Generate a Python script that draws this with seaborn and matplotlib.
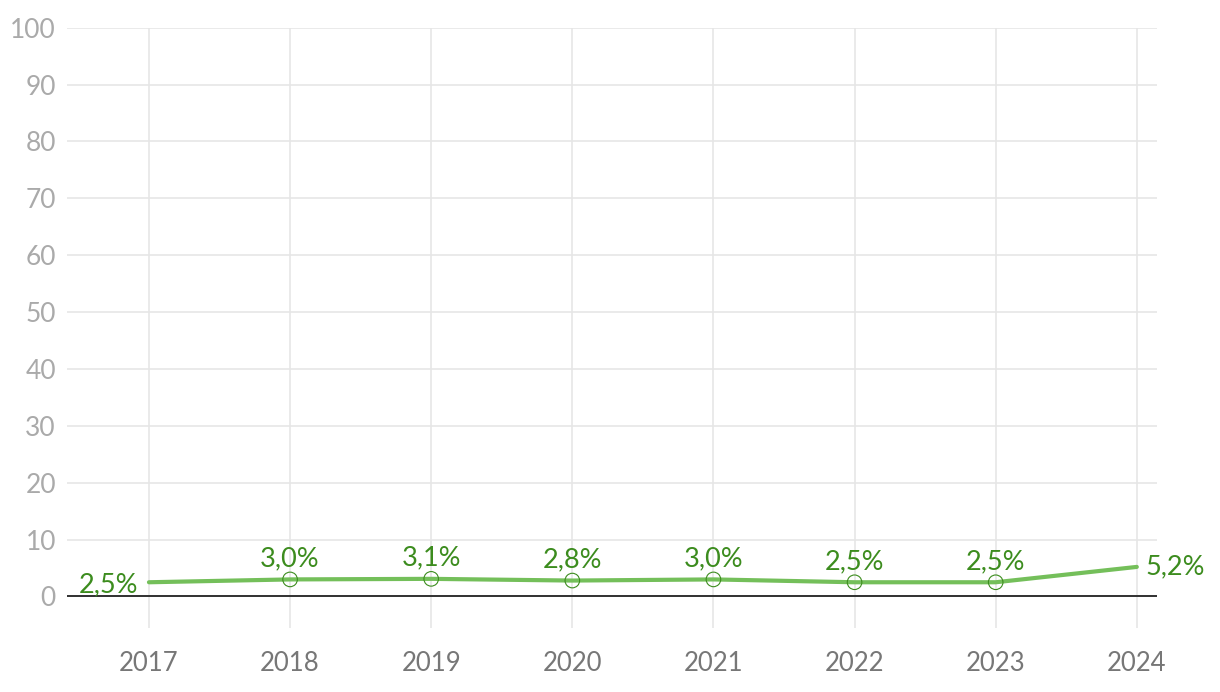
import pandas as pd
import seaborn as sns
import matplotlib.pyplot as plt

anios = [2017, 2018, 2019, 2020, 2021, 2022, 2023, 2024]
valores = [2.5, 3.0, 3.1, 2.8, 3.0, 2.5, 2.5, 5.2]
etiquetas = ["2,5%", "3,0%", "3,1%", "2,8%", "3,0%", "2,5%", "2,5%", "5,2%"]

df = pd.DataFrame({"anio": anios, "valor": valores})

sns.set_style("white")
plt.rcParams["font.family"] = ["Lato", "DejaVu Sans"]

verde_linea = "#74bf5a"
verde_texto = "#3c8c1e"

fig, ax = plt.subplots(figsize=(12.2, 6.92), dpi=100)
fig.subplots_adjust(left=0.055, right=0.948, top=0.96, bottom=0.092)

ax.set_xlim(2016.42, 2024.14)
ax.set_ylim(-5.6, 100)

# rejilla
for y in range(0, 101, 10):
    ax.axhline(y, color="#e6e6e6", lw=1.2, zorder=0)
for x in anios:
    ax.axvline(x, color="#e6e6e6", lw=1.2, zorder=0)
ax.axhline(0, color="#222222", lw=1.3, zorder=1)

sns.lineplot(data=df, x="anio", y="valor", color=verde_linea, lw=3, ax=ax, zorder=3)
medio = df.iloc[1:-1]
ax.scatter(medio["anio"], medio["valor"], s=110, facecolors="none",
           edgecolors=verde_texto, linewidths=0.8, zorder=4)

for i, (x, v, t) in enumerate(zip(anios, valores, etiquetas)):
    if i == 0:
        ax.annotate(t, (x, v), xytext=(-8, -2), textcoords="offset points",
                    ha="right", va="center", color=verde_texto, fontsize=19.5)
    elif i == len(anios) - 1:
        ax.annotate(t, (x, v), xytext=(6, 0), textcoords="offset points",
                    ha="left", va="center", color=verde_texto, fontsize=19.5)
    else:
        ax.annotate(t, (x, v), xytext=(0, 6), textcoords="offset points",
                    ha="center", va="bottom", color=verde_texto, fontsize=19.5)

ax.set_xticks(anios)
ax.set_xticklabels([str(a) for a in anios], color="#777777", fontsize=18.5)
ax.set_yticks(range(0, 101, 10))
ax.set_yticklabels([str(y) for y in range(0, 101, 10)], color="#aaaaaa", fontsize=19)
ax.tick_params(length=0, pad=8)
ax.tick_params(axis="x", pad=16)
ax.set_xlabel("")
ax.set_ylabel("")
sns.despine(ax=ax, left=True, bottom=True)

fig.savefig("out.png", dpi=100)
